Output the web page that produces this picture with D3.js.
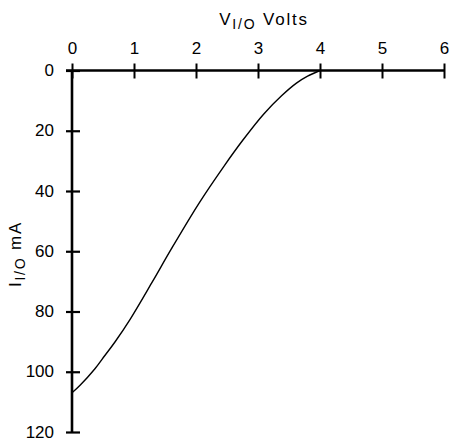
<!DOCTYPE html>
<html><head><meta charset="utf-8">
<script src="https://cdn.jsdelivr.net/npm/d3@7"></script>
<style>body{margin:0;background:#fff}svg{display:block}</style>
</head><body>
<script>
const voltage = [0, 0.13, 0.37, 0.53, 0.69, 0.94, 1.3, 1.6, 2.05, 2.45, 2.76, 3.09, 3.38, 3.62, 3.8, 4.0];
const current = [107, 104.5, 99, 94.6, 90.2, 82.5, 70, 59.3, 44, 31.8, 23, 14.5, 8.4, 4.2, 1.9, 0];
const xTicks = [0, 1, 2, 3, 4, 5, 6];
const yTicks = [0, 20, 40, 60, 80, 100, 120];

const W = 450, H = 441;
const svg = d3.select("body").append("svg").attr("width", W).attr("height", H)
  .style("font-family", "'Liberation Sans', Arial, Helvetica, sans-serif");

const x = d3.scaleLinear().domain([0, 6]).range([72, 444]);
const y = d3.scaleLinear().domain([0, 120]).range([70.5, 432]);

// X axis (top)
const gx = svg.append("g").attr("transform", `translate(0,${y(0)})`)
  .call(d3.axisTop(x).tickValues(xTicks).tickSize(7).tickPadding(10).tickFormat(d3.format("d")));
gx.select(".domain").attr("d", `M${x(0)-6},0H${x(6)}`).attr("stroke", "#000").attr("stroke-width", 2.6);
gx.selectAll(".tick line").attr("y1", 8).attr("y2", -7).attr("stroke-width", 2);
gx.selectAll(".tick text").attr("font-size", 17).attr("fill", "#000");

// Y axis (left)
const gy = svg.append("g").attr("transform", `translate(${x(0)},0)`)
  .call(d3.axisLeft(y).tickValues(yTicks).tickSize(6).tickPadding(12).tickFormat(d3.format("d")));
gy.select(".domain").attr("d", `M0,${y(0)}V${y(120)}`).attr("stroke", "#000").attr("stroke-width", 2.6);
gy.selectAll(".tick line").attr("x1", -6).attr("x2", 8).attr("stroke-width", 2.2);
gy.selectAll(".tick text").attr("font-size", 17).attr("fill", "#000").attr("dy", "0.3em");

// Titles
const xt = svg.append("text").attr("x", 264).attr("y", 25).attr("text-anchor", "middle")
  .attr("font-size", 17).attr("letter-spacing", "1.8px").attr("fill", "#000");
xt.append("tspan").text("V");
xt.append("tspan").attr("font-size", 14).attr("dy", 4).text("I/O");
xt.append("tspan").attr("dy", -4).text(" Volts");

const yt = svg.append("text").attr("transform", `translate(21,254) rotate(-90)`)
  .attr("text-anchor", "middle").attr("font-size", 17).attr("letter-spacing", "1.8px").attr("fill", "#000");
yt.append("tspan").text("I");
yt.append("tspan").attr("font-size", 14).attr("dy", 4).text("I/O");
yt.append("tspan").attr("dy", -4).text(" mA");

// Curve
const pts = voltage.map((v, i) => [v, current[i]]);
svg.append("path").datum(pts)
  .attr("d", d3.line().x(d => x(d[0])).y(d => y(d[1])).curve(d3.curveCatmullRom.alpha(0.5)))
  .attr("fill", "none").attr("stroke", "#000").attr("stroke-width", 1.4);
</script>
</body></html>
